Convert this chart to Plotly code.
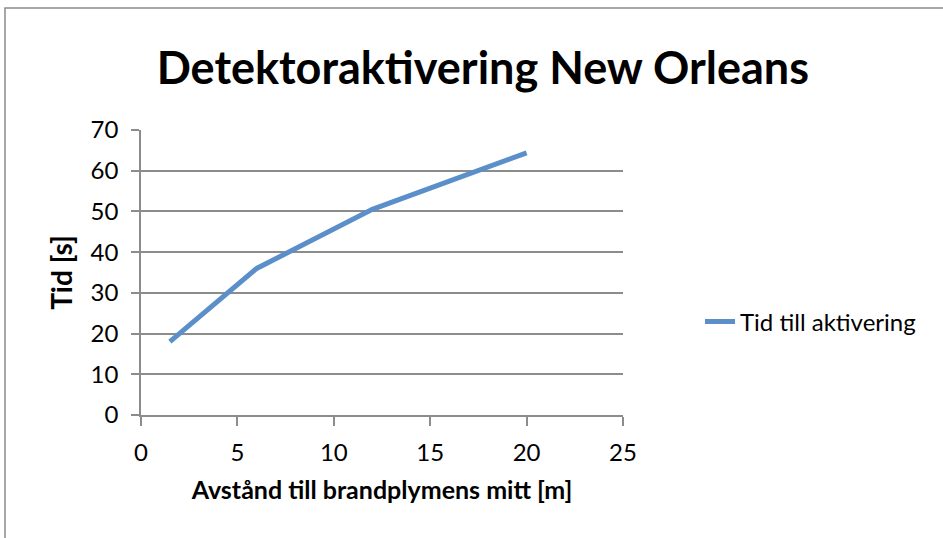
import plotly.graph_objects as go

distance_m = [1.5, 6, 12, 20]
time_s = [18.0, 36.0, 50.5, 64.4]
series_name = "Tid till aktivering"
title_text = "Detektoraktivering New Orleans"
x_title = "Avstånd till brandplymens mitt [m]"
y_title = "Tid [s]"

FONT = "Lato, 'Open Sans', sans-serif"
GRID = "#8c8c8c"

fig = go.Figure()
fig.add_trace(go.Scatter(
    x=distance_m, y=time_s, mode="lines", name=series_name,
    line=dict(color="#5b8fc9", width=5),
))

L, R, T, B = 141, 320, 130, 123
W, H = 943, 538
pw, ph = W - L - R, H - T - B

fig.update_layout(
    width=W, height=H,
    margin=dict(l=L, r=R, t=T, b=B),
    paper_bgcolor="white", plot_bgcolor="white",
    font=dict(family=FONT, color="black", size=24),
    title=dict(text="<b>" + title_text + "</b>", x=0.512, xanchor="center",
               y=1 - 68 / H, yanchor="middle",
               font=dict(family=FONT, size=45, color="black")),
    showlegend=True,
    legend=dict(x=(700 - L) / pw, y=(H - B - 322) / ph, xanchor="left", yanchor="middle",
                font=dict(family=FONT, size=24, color="black"),
                bgcolor="rgba(0,0,0,0)", itemwidth=30),
    xaxis=dict(range=[0, 25], tickvals=[0, 5, 10, 15, 20, 25], showgrid=False,
               zeroline=False, showline=True, linecolor=GRID, linewidth=1.5,
               ticks="outside", ticklen=9, tickcolor=GRID, tickwidth=1.5,
               tickfont=dict(size=24, family=FONT), ticklabelstandoff=6,
               title=dict(text="<b>" + x_title + "</b>", font=dict(size=25, family=FONT), standoff=17)),
    yaxis=dict(range=[0, 70], tickvals=[0, 10, 20, 30, 40, 50, 60, 70], showgrid=True,
               gridcolor=GRID, gridwidth=1.5, zeroline=False, showline=True,
               linecolor=GRID, linewidth=1.5, ticks="outside", ticklen=8,
               tickcolor=GRID, tickwidth=1.5, tickfont=dict(size=24, family=FONT),
               ticklabelstandoff=8,
               title=dict(text="<b>" + y_title + "</b>", font=dict(size=28, family=FONT), standoff=10)),
    shapes=[dict(type="rect", xref="paper", yref="paper",
                 x0=(5 - L) / pw, x1=(960 - L) / pw,
                 y0=(H - B - 560) / ph, y1=(H - B - 8) / ph,
                 line=dict(color="#8c8c8c", width=1.5), layer="below")],
)

fig.write_html("out.html")
